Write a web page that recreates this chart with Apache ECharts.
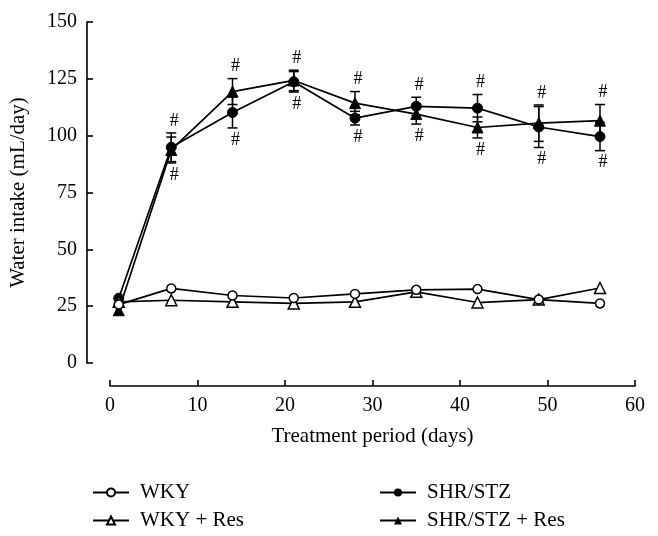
<!DOCTYPE html>
<html><head><meta charset="utf-8">
<script src="https://cdn.jsdelivr.net/npm/echarts@6/dist/echarts.min.js"></script>
<style>html,body{margin:0;padding:0;background:#fff}#c{width:658px;height:536px}</style>
</head><body><div id="c"></div>
<script>
// ---- data ----
const days = [1, 7, 14, 21, 28, 35, 42, 49, 56];
const wky = [25.7, 32.8, 29.7, 28.6, 30.4, 32.2, 32.5, 27.9, 26.2];
const wkyRes = [26.9, 27.6, 26.9, 26.2, 26.9, 31.3, 26.6, 27.9, 33.0];
const shr = [28.5, 94.9, 110.2, 123.7, 107.7, 112.9, 112.1, 103.8, 99.6];
const shrSd = [0, 6.3, 6.8, 4.5, 3.0, 4.0, 6.0, 9.0, 6.2];
const shrRes = [23.2, 93.7, 119.4, 124.3, 114.3, 109.5, 103.6, 105.5, 106.6];
const shrResSd = [0, 5.7, 5.7, 4.5, 5.1, 4.4, 4.6, 8.0, 7.1];
const significant = [false, true, true, true, true, true, true, true, true];
const seriesNames = ['WKY', 'WKY + Res', 'SHR/STZ', 'SHR/STZ + Res'];
const xTitle = 'Treatment period (days)';
const yTitle = 'Water intake (mL/day)';

// ---- chart ----
const FONT = '"Liberation Serif", "DejaVu Serif", serif';
const chart = echarts.init(document.getElementById('c'), null, {renderer: 'canvas'});

function pts(vals) { return days.map((d, i) => [d, vals[i]]); }
function errData(vals, sds) {
  const out = [];
  days.forEach((d, i) => { if (sds[i] > 0) out.push([d, vals[i] - sds[i], vals[i] + sds[i]]); });
  return out;
}
function hashData() {
  const out = [];
  days.forEach((d, i) => {
    if (!significant[i]) return;
    const top = Math.max(shr[i] + shrSd[i], shrRes[i] + shrResSd[i]);
    const bot = Math.min(shr[i] - shrSd[i], shrRes[i] - shrResSd[i]);
    out.push([d, bot, top]);
  });
  return out;
}
function renderErr(params, api) {
  const x = api.value(0);
  const lo = api.coord([x, api.value(1)]);
  const hi = api.coord([x, api.value(2)]);
  const w = 5;
  const style = {stroke: '#000', lineWidth: 1.5};
  return {type: 'group', children: [
    {type: 'line', shape: {x1: lo[0], y1: lo[1], x2: hi[0], y2: hi[1]}, style},
    {type: 'line', shape: {x1: lo[0] - w, y1: lo[1], x2: lo[0] + w, y2: lo[1]}, style},
    {type: 'line', shape: {x1: hi[0] - w, y1: hi[1], x2: hi[0] + w, y2: hi[1]}, style}
  ]};
}
function renderHash(params, api) {
  const x = api.value(0);
  const lo = api.coord([x, api.value(1)]);
  const hi = api.coord([x, api.value(2)]);
  const font = '18px ' + FONT;
  return {type: 'group', children: [
    {type: 'text', x: hi[0] + 3, y: hi[1] - 3, style: {text: '#', font, fill: '#000',
      align: 'center', verticalAlign: 'bottom', textAlign: 'center', textVerticalAlign: 'bottom'}},
    {type: 'text', x: lo[0] + 3, y: lo[1] + 3, style: {text: '#', font, fill: '#000',
      align: 'center', verticalAlign: 'top', textAlign: 'center', textVerticalAlign: 'top'}}
  ]};
}

const lineStyle = {color: '#000', width: 1.7};
const legendText = {fontFamily: FONT, fontSize: 21, color: '#000', lineHeight: 21, padding: [0, 0, 0, 6]};
function legendAt(name, left, top) {
  return {left, top, orient: 'vertical', itemWidth: 36, itemHeight: 10,
          selectedMode: false, data: [name], textStyle: legendText};
}

chart.setOption({
  animation: false,
  backgroundColor: '#fff',
  grid: {left: 110, right: 23, top: 22, bottom: 173, containLabel: false},
  xAxis: {
    type: 'value', min: 0, max: 60, interval: 10, offset: 23,
    name: xTitle, nameLocation: 'middle', nameGap: 40,
    nameTextStyle: {fontFamily: FONT, fontSize: 21, color: '#000', verticalAlign: 'top'},
    axisLine: {show: true, onZero: false, lineStyle: {color: '#000', width: 1.6}},
    axisTick: {show: true, inside: true, length: 6, lineStyle: {color: '#000', width: 1.6}},
    axisLabel: {fontFamily: FONT, fontSize: 20, color: '#000', margin: 10},
    splitLine: {show: false}
  },
  yAxis: {
    type: 'value', min: 0, max: 150, interval: 25, offset: 23,
    name: yTitle, nameLocation: 'middle', nameGap: 58, nameRotate: 90,
    nameTextStyle: {fontFamily: FONT, fontSize: 21, color: '#000'},
    axisLine: {show: true, onZero: false, lineStyle: {color: '#000', width: 1.6}},
    axisTick: {show: true, inside: true, length: 6, lineStyle: {color: '#000', width: 1.6}},
    axisLabel: {fontFamily: FONT, fontSize: 20, color: '#000', margin: 10},
    splitLine: {show: false}
  },
  legend: [
    legendAt(seriesNames[0], 87, 477),
    legendAt(seriesNames[1], 87, 505),
    legendAt(seriesNames[2], 374, 477),
    legendAt(seriesNames[3], 374, 505)
  ],
  series: [
    {type: 'custom', name: 'err1', renderItem: renderErr, data: errData(shrRes, shrResSd), z: 1, silent: true},
    {type: 'custom', name: 'err2', renderItem: renderErr, data: errData(shr, shrSd), z: 1, silent: true},
    {type: 'custom', name: 'hash', renderItem: renderHash, data: hashData(), z: 1, silent: true},
    {type: 'line', name: seriesNames[3], data: pts(shrRes), symbol: 'triangle', symbolSize: 11,
     lineStyle, itemStyle: {color: '#000', borderColor: '#000'}, z: 2},
    {type: 'line', name: seriesNames[2], data: pts(shr), symbol: 'circle', symbolSize: 10,
     lineStyle, itemStyle: {color: '#000', borderColor: '#000'}, z: 3},
    {type: 'line', name: seriesNames[1], data: pts(wkyRes), symbol: 'triangle', symbolSize: 11,
     lineStyle, itemStyle: {color: '#fff', borderColor: '#000', borderWidth: 1.5}, z: 4},
    {type: 'line', name: seriesNames[0], data: pts(wky), symbol: 'circle', symbolSize: 9,
     lineStyle, itemStyle: {color: '#fff', borderColor: '#000', borderWidth: 1.5}, z: 5}
  ]
});
</script>
</body></html>
